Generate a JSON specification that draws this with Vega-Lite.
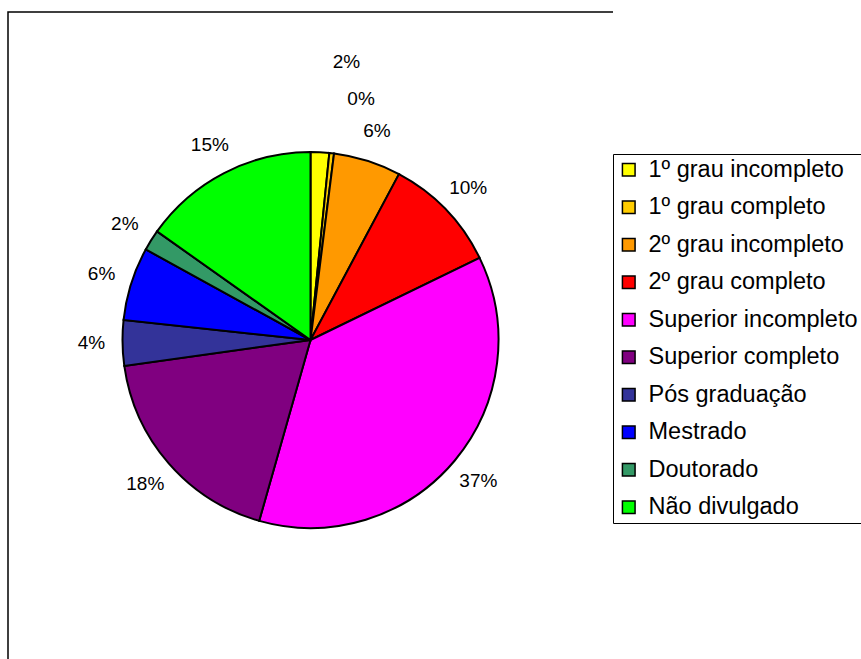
{
  "$schema": "https://vega.github.io/schema/vega-lite/v6.json",
  "autosize": {"type": "none"},
  "padding": {"left": 8, "top": 12, "right": 248, "bottom": 0},
  "width": 605,
  "height": 656,
  "background": "white",
  "view": {"stroke": "black", "strokeWidth": 1.5, "fill": "white", "strokeDash": [605, 1261, 656]},
  "config": {
    "font": "Liberation Sans"
  },
  "data": {
    "values": [
      {"k": 1, "categoria": "1º grau incompleto", "pct": 0.016},
      {"k": 2, "categoria": "1º grau completo", "pct": 0.004},
      {"k": 3, "categoria": "2º grau incompleto", "pct": 0.058},
      {"k": 4, "categoria": "2º grau completo", "pct": 0.100},
      {"k": 5, "categoria": "Superior incompleto", "pct": 0.366},
      {"k": 6, "categoria": "Superior completo", "pct": 0.184},
      {"k": 7, "categoria": "Pós graduação", "pct": 0.039},
      {"k": 8, "categoria": "Mestrado", "pct": 0.063},
      {"k": 9, "categoria": "Doutorado", "pct": 0.018},
      {"k": 10, "categoria": "Não divulgado", "pct": 0.152}
    ]
  },
  "encoding": {
    "theta": {"field": "pct", "type": "quantitative", "stack": true},
    "order": {"field": "k", "type": "quantitative"}
  },
  "layer": [
    {
      "mark": {"type": "arc", "radius": 188, "stroke": "black", "strokeWidth": 2},
      "encoding": {
        "color": {
          "field": "categoria",
          "type": "nominal",
          "scale": {
            "domain": ["1º grau incompleto", "1º grau completo", "2º grau incompleto", "2º grau completo", "Superior incompleto", "Superior completo", "Pós graduação", "Mestrado", "Doutorado", "Não divulgado"],
            "range": ["#FFFF00", "#FFCC00", "#FF9900", "#FF0000", "#FF00FF", "#800080", "#333399", "#0000FF", "#339966", "#00FF00"]
          },
          "legend": {
            "title": null,
            "orient": "none",
            "legendX": 605,
            "legendY": 142,
            "direction": "vertical",
            "strokeColor": "black",
            "fillColor": "white",
            "padding": 4,
            "symbolType": "square",
            "symbolSize": 160,
            "symbolStrokeColor": "black",
            "symbolStrokeWidth": 1.5,
            "symbolOpacity": 1,
            "labelFont": "Liberation Sans",
            "labelFontSize": 23.5,
            "labelColor": "black",
            "labelOffset": 8,
            "labelLimit": 400,
            "rowPadding": 12.5
          }
        }
      }
    },
    {
      "mark": {"type": "text", "radius": 219, "fontSize": 19, "font": "Liberation Sans", "color": "black", "align": "center", "baseline": "middle"},
      "encoding": {
        "text": {"condition": {"test": "datum.k <= 2", "value": ""}, "field": "pct", "type": "quantitative", "format": ".0%"}
      }
    },
    {
      "mark": {"type": "text", "radius": 218, "fontSize": 19, "font": "Liberation Sans", "color": "black", "align": "center", "baseline": "middle", "dx": 25, "dy": -60},
      "encoding": {
        "text": {"condition": {"test": "datum.k != 1", "value": ""}, "field": "pct", "type": "quantitative", "format": ".0%"}
      }
    },
    {
      "mark": {"type": "text", "radius": 218, "fontSize": 19, "font": "Liberation Sans", "color": "black", "align": "center", "baseline": "middle", "dx": 26, "dy": -24},
      "encoding": {
        "text": {"condition": {"test": "datum.k != 2", "value": ""}, "field": "pct", "type": "quantitative", "format": ".0%"}
      }
    }
  ]
}
